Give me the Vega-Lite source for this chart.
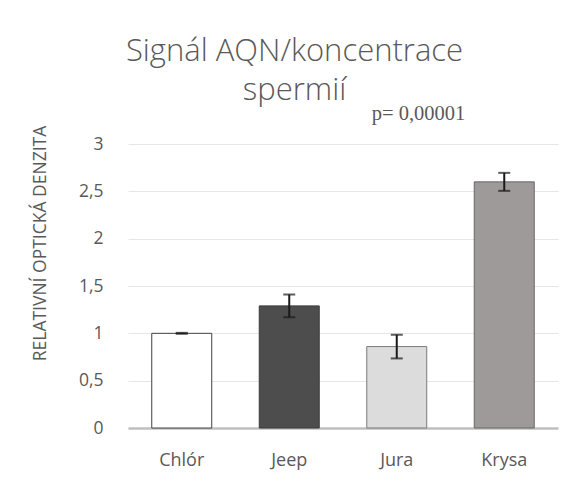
{
  "$schema": "https://vega.github.io/schema/vega-lite/v6.json",
  "width": 430,
  "height": 284,
  "autosize": {"type": "none"},
  "padding": {"left": 128, "top": 144, "right": 23, "bottom": 56},
  "background": "white",
  "title": {
    "text": ["Signál AQN/koncentrace", "spermií"],
    "font": "Open Sans",
    "fontSize": 31,
    "fontWeight": 300,
    "color": "#595959",
    "lineHeight": 39,
    "anchor": "middle",
    "frame": "bounds",
    "baseline": "alphabetic",
    "offset": 10,
    "dy": 37
  },
  "data": {
    "values": [
      {"vzorek": "Chlór", "hodnota": 1.0, "chyba": 0.005},
      {"vzorek": "Jeep", "hodnota": 1.29, "chyba": 0.12},
      {"vzorek": "Jura", "hodnota": 0.86, "chyba": 0.125},
      {"vzorek": "Krysa", "hodnota": 2.6, "chyba": 0.095}
    ]
  },
  "encoding": {
    "x": {
      "field": "vzorek",
      "type": "nominal",
      "sort": null,
      "title": null,
      "scale": {"paddingInner": 0.442, "paddingOuter": 0.221},
      "axis": {
        "labelAngle": 0,
        "labelFont": "Open Sans",
        "labelFontSize": 18,
        "labelColor": "#595959",
        "labelPadding": 23,
        "ticks": false,
        "tickSize": 0,
        "domainColor": "#bfbfbf",
        "domainWidth": 2.5,
        "grid": false
      }
    }
  },
  "layer": [
    {
      "mark": {"type": "bar", "strokeWidth": 1},
      "encoding": {
        "y": {
          "field": "hodnota",
          "type": "quantitative",
          "title": "RELATIVNÍ OPTICKÁ DENZITA",
          "scale": {"domain": [0, 3]},
          "axis": {
            "titleFont": "Open Sans",
            "titleFontSize": 17.5,
            "titleFontWeight": "normal",
            "titleColor": "#595959",
            "titleAngle": -90,
            "titleX": -79,
            "titleY": 99,
            "titleAlign": "center",
            "titleBaseline": "bottom",
            "values": [0, 0.5, 1, 1.5, 2, 2.5, 3],
            "labelExpr": "replace(toString(datum.value), '.', ',')",
            "labelFont": "Open Sans",
            "labelFontSize": 17.5,
            "labelColor": "#595959",
            "labelPadding": 25,
            "ticks": false,
            "tickSize": 0,
            "domain": false,
            "gridColor": "#e6e6e6",
            "gridWidth": 1
          }
        },
        "fill": {
          "field": "vzorek",
          "type": "nominal",
          "scale": {"domain": ["Chlór", "Jeep", "Jura", "Krysa"], "range": ["#ffffff", "#4d4d4d", "#dcdcdc", "#9e9a99"]},
          "legend": null
        },
        "stroke": {
          "field": "vzorek",
          "type": "nominal",
          "scale": {"domain": ["Chlór", "Jeep", "Jura", "Krysa"], "range": ["#404040", "#3a3a3a", "#7a7a7a", "#6a6666"]},
          "legend": null
        }
      }
    },
    {
      "mark": {"type": "errorbar", "ticks": true, "size": 12, "thickness": 2, "color": "#1a1a1a"},
      "encoding": {
        "y": {"field": "hodnota", "type": "quantitative", "title": "RELATIVNÍ OPTICKÁ DENZITA"},
        "yError": {"field": "chyba"}
      }
    },
    {
      "data": {"values": [{"vzorek": "Jura", "popis": "p= 0,00001"}]},
      "mark": {"type": "text", "font": "Liberation Serif", "fontSize": 20.5, "color": "#595959", "align": "left", "baseline": "alphabetic", "dx": -25, "clip": false},
      "encoding": {
        "y": {"datum": 3.25},
        "text": {"field": "popis"}
      }
    }
  ],
  "config": {
    "view": {"stroke": null}
  }
}
